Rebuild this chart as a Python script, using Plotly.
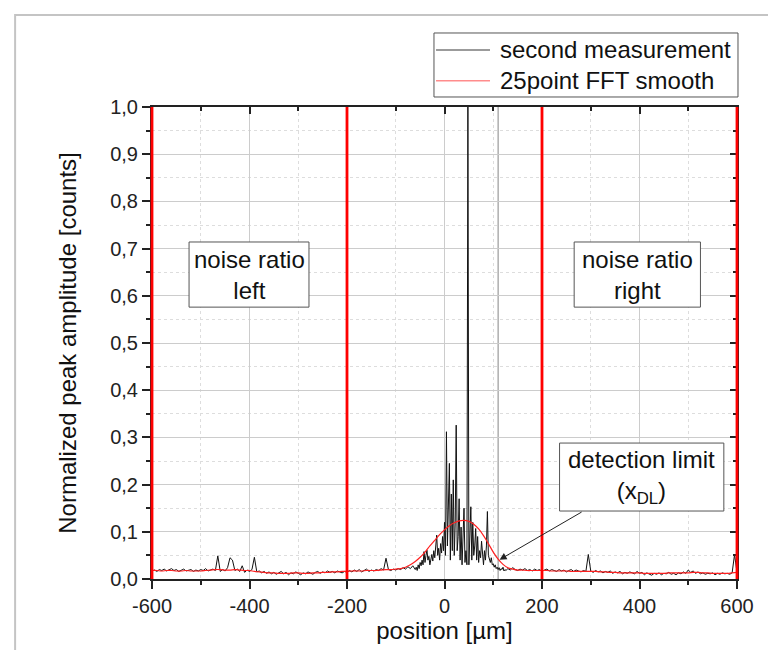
import plotly.graph_objects as go

# ---------------- data ----------------
# second measurement, left baseline (-600 .. -65 µm, 5 µm step)
meas_left_x = list(range(-600, -64, 5))
meas_left_y = [
    0.017, 0.019, 0.016, 0.020, 0.018, 0.021, 0.017, 0.019, 0.022, 0.018,
    0.020, 0.016, 0.019, 0.021, 0.017, 0.018, 0.020, 0.016, 0.019, 0.017,
    0.020, 0.018, 0.022, 0.017, 0.019, 0.021, 0.018, 0.049, 0.016, 0.020,
    0.017, 0.024, 0.045, 0.040, 0.018, 0.021, 0.016, 0.028, 0.014, 0.019,
    0.016, 0.020, 0.046, 0.015, 0.017, 0.013, 0.016, 0.012, 0.015, 0.011,
    0.014, 0.010, 0.013, 0.016, 0.011, 0.014, 0.009, 0.013, 0.011, 0.015,
    0.012, 0.009, 0.013, 0.011, 0.015, 0.012, 0.010, 0.014, 0.016, 0.012,
    0.015, 0.013, 0.017, 0.014, 0.016, 0.013, 0.017, 0.015, 0.013, 0.016,
    0.014, 0.018, 0.015, 0.019, 0.016, 0.020, 0.015, 0.018, 0.021, 0.016,
    0.019, 0.017, 0.020, 0.018, 0.022, 0.019, 0.044, 0.020, 0.018, 0.021,
    0.019, 0.022, 0.020, 0.024, 0.021, 0.026, 0.022, 0.028,
]
# second measurement, central peak region (-60 .. 128 µm, 2 µm step)
meas_mid_x = list(range(-60, 129, 2))
meas_mid_y = [
    0.020, 0.025, 0.018, 0.030, 0.022, 0.035, 0.028, 0.040, 0.030, 0.058,
    0.035, 0.050, 0.061, 0.040, 0.048, 0.030, 0.045, 0.052, 0.038, 0.060,
    0.045, 0.070, 0.093, 0.050, 0.065, 0.040, 0.075, 0.055, 0.090, 0.060,
    0.120, 0.050, 0.312, 0.070, 0.150, 0.245, 0.040, 0.180, 0.060, 0.210,
    0.050, 0.120, 0.326, 0.060, 0.090, 0.170, 0.040, 0.110, 0.030, 0.080,
    0.150, 0.035, 0.060, 0.030, 1.000, 0.030, 0.080, 0.153, 0.040, 0.120,
    0.050, 0.070, 0.107, 0.040, 0.090, 0.035, 0.060, 0.045, 0.080, 0.050,
    0.030, 0.060, 0.040, 0.070, 0.143, 0.050, 0.040, 0.035, 0.045, 0.030,
    0.032, 0.025, 0.030, 0.022, 0.025, 0.020, 0.024, 0.018, 0.022, 0.020,
    0.025, 0.017, 0.020, 0.018, 0.020,
]
# second measurement, right baseline (130 .. 600 µm, 5 µm step)
meas_right_x = list(range(130, 601, 5))
meas_right_y = [
    0.022, 0.019, 0.024, 0.020, 0.018, 0.021, 0.019, 0.022, 0.018, 0.020,
    0.017, 0.021, 0.018, 0.020, 0.016, 0.019, 0.021, 0.017, 0.020, 0.018,
    0.016, 0.020, 0.017, 0.019, 0.015, 0.018, 0.020, 0.016, 0.019, 0.017,
    0.015, 0.018, 0.016, 0.052, 0.017, 0.014, 0.018, 0.015, 0.017, 0.013,
    0.016, 0.014, 0.017, 0.012, 0.015, 0.013, 0.016, 0.011, 0.014, 0.012,
    0.015, 0.013, 0.011, 0.016, 0.012, 0.014, 0.009, 0.013, 0.011, 0.008,
    0.012, 0.010, 0.013, 0.009, 0.012, 0.011, 0.014, 0.010, 0.012, 0.009,
    0.013, 0.011, 0.015, 0.012, 0.019, 0.014, 0.017, 0.012, 0.015, 0.011,
    0.013, 0.010, 0.012, 0.011, 0.013, 0.009, 0.012, 0.010, 0.013, 0.011,
    0.012, 0.010, 0.013, 0.052, 0.014,
]
# 25 point FFT smooth (-600 .. 600 µm, 10 µm step)
smooth_x = list(range(-600, 601, 10))
smooth_y = [
    0.018, 0.018, 0.017, 0.018, 0.018, 0.017, 0.017, 0.018, 0.017, 0.017,
    0.017, 0.018, 0.019, 0.020, 0.020, 0.019, 0.019, 0.020, 0.019, 0.018,
    0.018, 0.016, 0.015, 0.014, 0.013, 0.013, 0.012, 0.012, 0.012, 0.013,
    0.013, 0.012, 0.012, 0.013, 0.013, 0.014, 0.014, 0.015, 0.015, 0.016,
    0.016, 0.017, 0.017, 0.017, 0.018, 0.018, 0.018, 0.019, 0.020, 0.020,
    0.021, 0.022, 0.025, 0.030, 0.037, 0.046, 0.057, 0.070, 0.082, 0.094,
    0.104, 0.113, 0.119, 0.123, 0.124, 0.122, 0.116, 0.106, 0.092, 0.075,
    0.057, 0.042, 0.031, 0.024, 0.021, 0.019, 0.019, 0.018, 0.018, 0.018,
    0.018, 0.018, 0.017, 0.017, 0.017, 0.017, 0.016, 0.016, 0.016, 0.016,
    0.016, 0.016, 0.015, 0.015, 0.014, 0.014, 0.013, 0.013, 0.013, 0.013,
    0.013, 0.012, 0.012, 0.012, 0.012, 0.012, 0.013, 0.013, 0.013, 0.013,
    0.013, 0.014, 0.014, 0.013, 0.013, 0.012, 0.012, 0.012, 0.012, 0.013,
    0.014,
]
series_names = ["second measurement", "25point FFT smooth"]
region_bounds = [-600, -200, 200, 600]     # red region markers
detection_limit_x = 110                    # x_DL
x_tick_vals = [-600, -400, -200, 0, 200, 400, 600]
x_tick_text = ["-600", "-400", "-200", "0", "200", "400", "600"]
y_tick_vals = [0.0, 0.1, 0.2, 0.3, 0.4, 0.5, 0.6, 0.7, 0.8, 0.9, 1.0]
y_tick_text = ["0,0", "0,1", "0,2", "0,3", "0,4", "0,5", "0,6", "0,7", "0,8", "0,9", "1,0"]

X_RANGE = [-600, 600]
Y_RANGE = [0, 1.0]

meas_x = meas_left_x + meas_mid_x + meas_right_x
meas_y = meas_left_y + meas_mid_y + meas_right_y
assert len(meas_left_x) == len(meas_left_y)
assert len(meas_mid_x) == len(meas_mid_y)
assert len(meas_right_x) == len(meas_right_y)
assert len(smooth_x) == len(smooth_y)

FONT = "Liberation Sans, Arial, sans-serif"
MEAS_COLOR = "#111111"
SMOOTH_COLOR = "#ff2020"

fig = go.Figure()
fig.add_trace(go.Scatter(x=meas_x, y=meas_y, mode="lines", name=series_names[0],
                         line=dict(color=MEAS_COLOR, width=1), showlegend=False))
fig.add_trace(go.Scatter(x=smooth_x, y=smooth_y, mode="lines", name=series_names[1],
                         line=dict(color=SMOOTH_COLOR, width=1.2, shape="spline"),
                         showlegend=False))
# helper trace for mirrored top/right axes
fig.add_trace(go.Scatter(x=[None], y=[None], xaxis="x2", yaxis="y2", showlegend=False,
                         hoverinfo="skip"))

def px(v):
    return (v - X_RANGE[0]) / (X_RANGE[1] - X_RANGE[0])

shapes = []
# outer page frame
shapes.append(dict(type="rect", xref="paper", yref="paper", x0=-0.234, x1=1.2,
                   y0=-0.3, y1=1.195, line=dict(color="#c4c4c4", width=2),
                   fillcolor="rgba(0,0,0,0)", layer="below"))
# detection limit marker line
shapes.append(dict(type="line", xref="x", yref="y", x0=detection_limit_x, x1=detection_limit_x,
                   y0=0, y1=1.0, line=dict(color="#9a9a9a", width=1.2), layer="below"))
# red region borders
for b in region_bounds:
    shapes.append(dict(type="line", xref="paper", yref="paper", x0=px(b), x1=px(b),
                       y0=0, y1=1, line=dict(color="#ff0000", width=2.8), layer="above"))
# text boxes
box_style = dict(type="rect", xref="x", yref="y", line=dict(color="#555555", width=1),
                 fillcolor="white", layer="above")
shapes.append(dict(box_style, x0=-524, x1=-278, y0=0.576, y1=0.714))
shapes.append(dict(box_style, x0=266, x1=525, y0=0.576, y1=0.714))
shapes.append(dict(box_style, x0=236, x1=573, y0=0.144, y1=0.288))

# legend box (drawn as in the original figure)
LEG_X0, LEG_X1, LEG_Y0, LEG_Y1 = 0.482, 1.0017, 1.0212, 1.1568
LEG_ROWS = [1.1208, 1.0557]
LEG_LINE_X = (0.4855, 0.5778)
LEG_TEXT_X = 0.5915
shapes.append(dict(type="rect", xref="paper", yref="paper", x0=LEG_X0, x1=LEG_X1,
                   y0=LEG_Y0, y1=LEG_Y1, line=dict(color="#555555", width=1),
                   fillcolor="white", layer="above"))
legend_line_colors = ["#7a7a7a", "#ff8c8c"]
for row_y, col in zip(LEG_ROWS, legend_line_colors):
    shapes.append(dict(type="line", xref="paper", yref="paper", x0=LEG_LINE_X[0],
                       x1=LEG_LINE_X[1], y0=row_y, y1=row_y,
                       line=dict(color=col, width=1.6), layer="above"))

ann_font = dict(family=FONT, size=24, color="#111111")
annotations = [
    dict(x=-401, y=0.645, xref="x", yref="y", text="noise ratio<br>left", showarrow=False,
         font=ann_font, align="center"),
    dict(x=395, y=0.645, xref="x", yref="y", text="noise ratio<br>right", showarrow=False,
         font=ann_font, align="center"),
    dict(x=113, y=0.041, xref="x", yref="y", ax=405, ay=0.216, axref="x", ayref="y",
         text="detection limit<br>(x<sub>DL</sub>)", font=ann_font, align="center",
         showarrow=True, arrowhead=2, arrowsize=1.4, arrowwidth=1,
         arrowcolor="#222222", standoff=0, startstandoff=5),
]
for row_y, name in zip(LEG_ROWS, series_names):
    annotations.append(dict(x=LEG_TEXT_X, y=row_y, xref="paper", yref="paper", text=name,
                            showarrow=False, xanchor="left", yanchor="middle",
                            font=ann_font))

tick_font = dict(family=FONT, size=20, color="#222222")
title_font = dict(family=FONT, size=24, color="#111111")

fig.update_layout(
    width=776, height=650,
    margin=dict(l=144, r=47, t=99, b=79),
    paper_bgcolor="white", plot_bgcolor="white",
    font=dict(family=FONT, color="#111111"),
    showlegend=False,
    shapes=shapes,
    annotations=annotations,
    xaxis=dict(
        range=X_RANGE, tickmode="array", tickvals=x_tick_vals, ticktext=x_tick_text,
        ticks="outside", ticklen=8, tickwidth=2, tickcolor="#222222",
        showline=True, linecolor="#222222", linewidth=2,
        showgrid=True, gridcolor="#cccccc", gridwidth=1, zeroline=False,
        tickfont=tick_font,
        minor=dict(tickmode="linear", tick0=-500, dtick=200, ticks="outside", ticklen=4,
                   tickwidth=2, tickcolor="#222222", showgrid=True, gridcolor="#dddddd",
                   griddash="dot", gridwidth=1),
        title=dict(text="position [µm]", font=title_font, standoff=4),
    ),
    yaxis=dict(
        range=Y_RANGE, tickmode="array", tickvals=y_tick_vals, ticktext=y_tick_text,
        ticks="outside", ticklen=8, tickwidth=2, tickcolor="#222222",
        showline=True, linecolor="#222222", linewidth=2,
        showgrid=True, gridcolor="#cccccc", gridwidth=1, zeroline=False,
        tickfont=tick_font,
        minor=dict(tickmode="linear", tick0=0.05, dtick=0.1, ticks="outside", ticklen=4,
                   tickwidth=2, tickcolor="#222222", showgrid=True, gridcolor="#dddddd",
                   griddash="dot", gridwidth=1),
        title=dict(text="Normalized peak amplitude [counts]", font=title_font, standoff=27),
    ),
    xaxis2=dict(
        overlaying="x", matches="x", side="top", range=X_RANGE,
        tickmode="array", tickvals=x_tick_vals, showticklabels=False,
        ticks="inside", ticklen=7, tickwidth=2, tickcolor="#222222",
        showline=True, linecolor="#222222", linewidth=2, showgrid=False, zeroline=False,
        minor=dict(tickmode="linear", tick0=-500, dtick=200, ticks="inside", ticklen=4,
                   tickwidth=2, tickcolor="#222222", showgrid=False),
    ),
    yaxis2=dict(
        overlaying="y", matches="y", side="right", range=Y_RANGE,
        tickmode="array", tickvals=y_tick_vals, showticklabels=False,
        ticks="inside", ticklen=7, tickwidth=2, tickcolor="#222222",
        showline=True, linecolor="#222222", linewidth=2, showgrid=False, zeroline=False,
        minor=dict(tickmode="linear", tick0=0.05, dtick=0.1, ticks="inside", ticklen=4,
                   tickwidth=2, tickcolor="#222222", showgrid=False),
    ),
)

fig.write_html("out.html")
